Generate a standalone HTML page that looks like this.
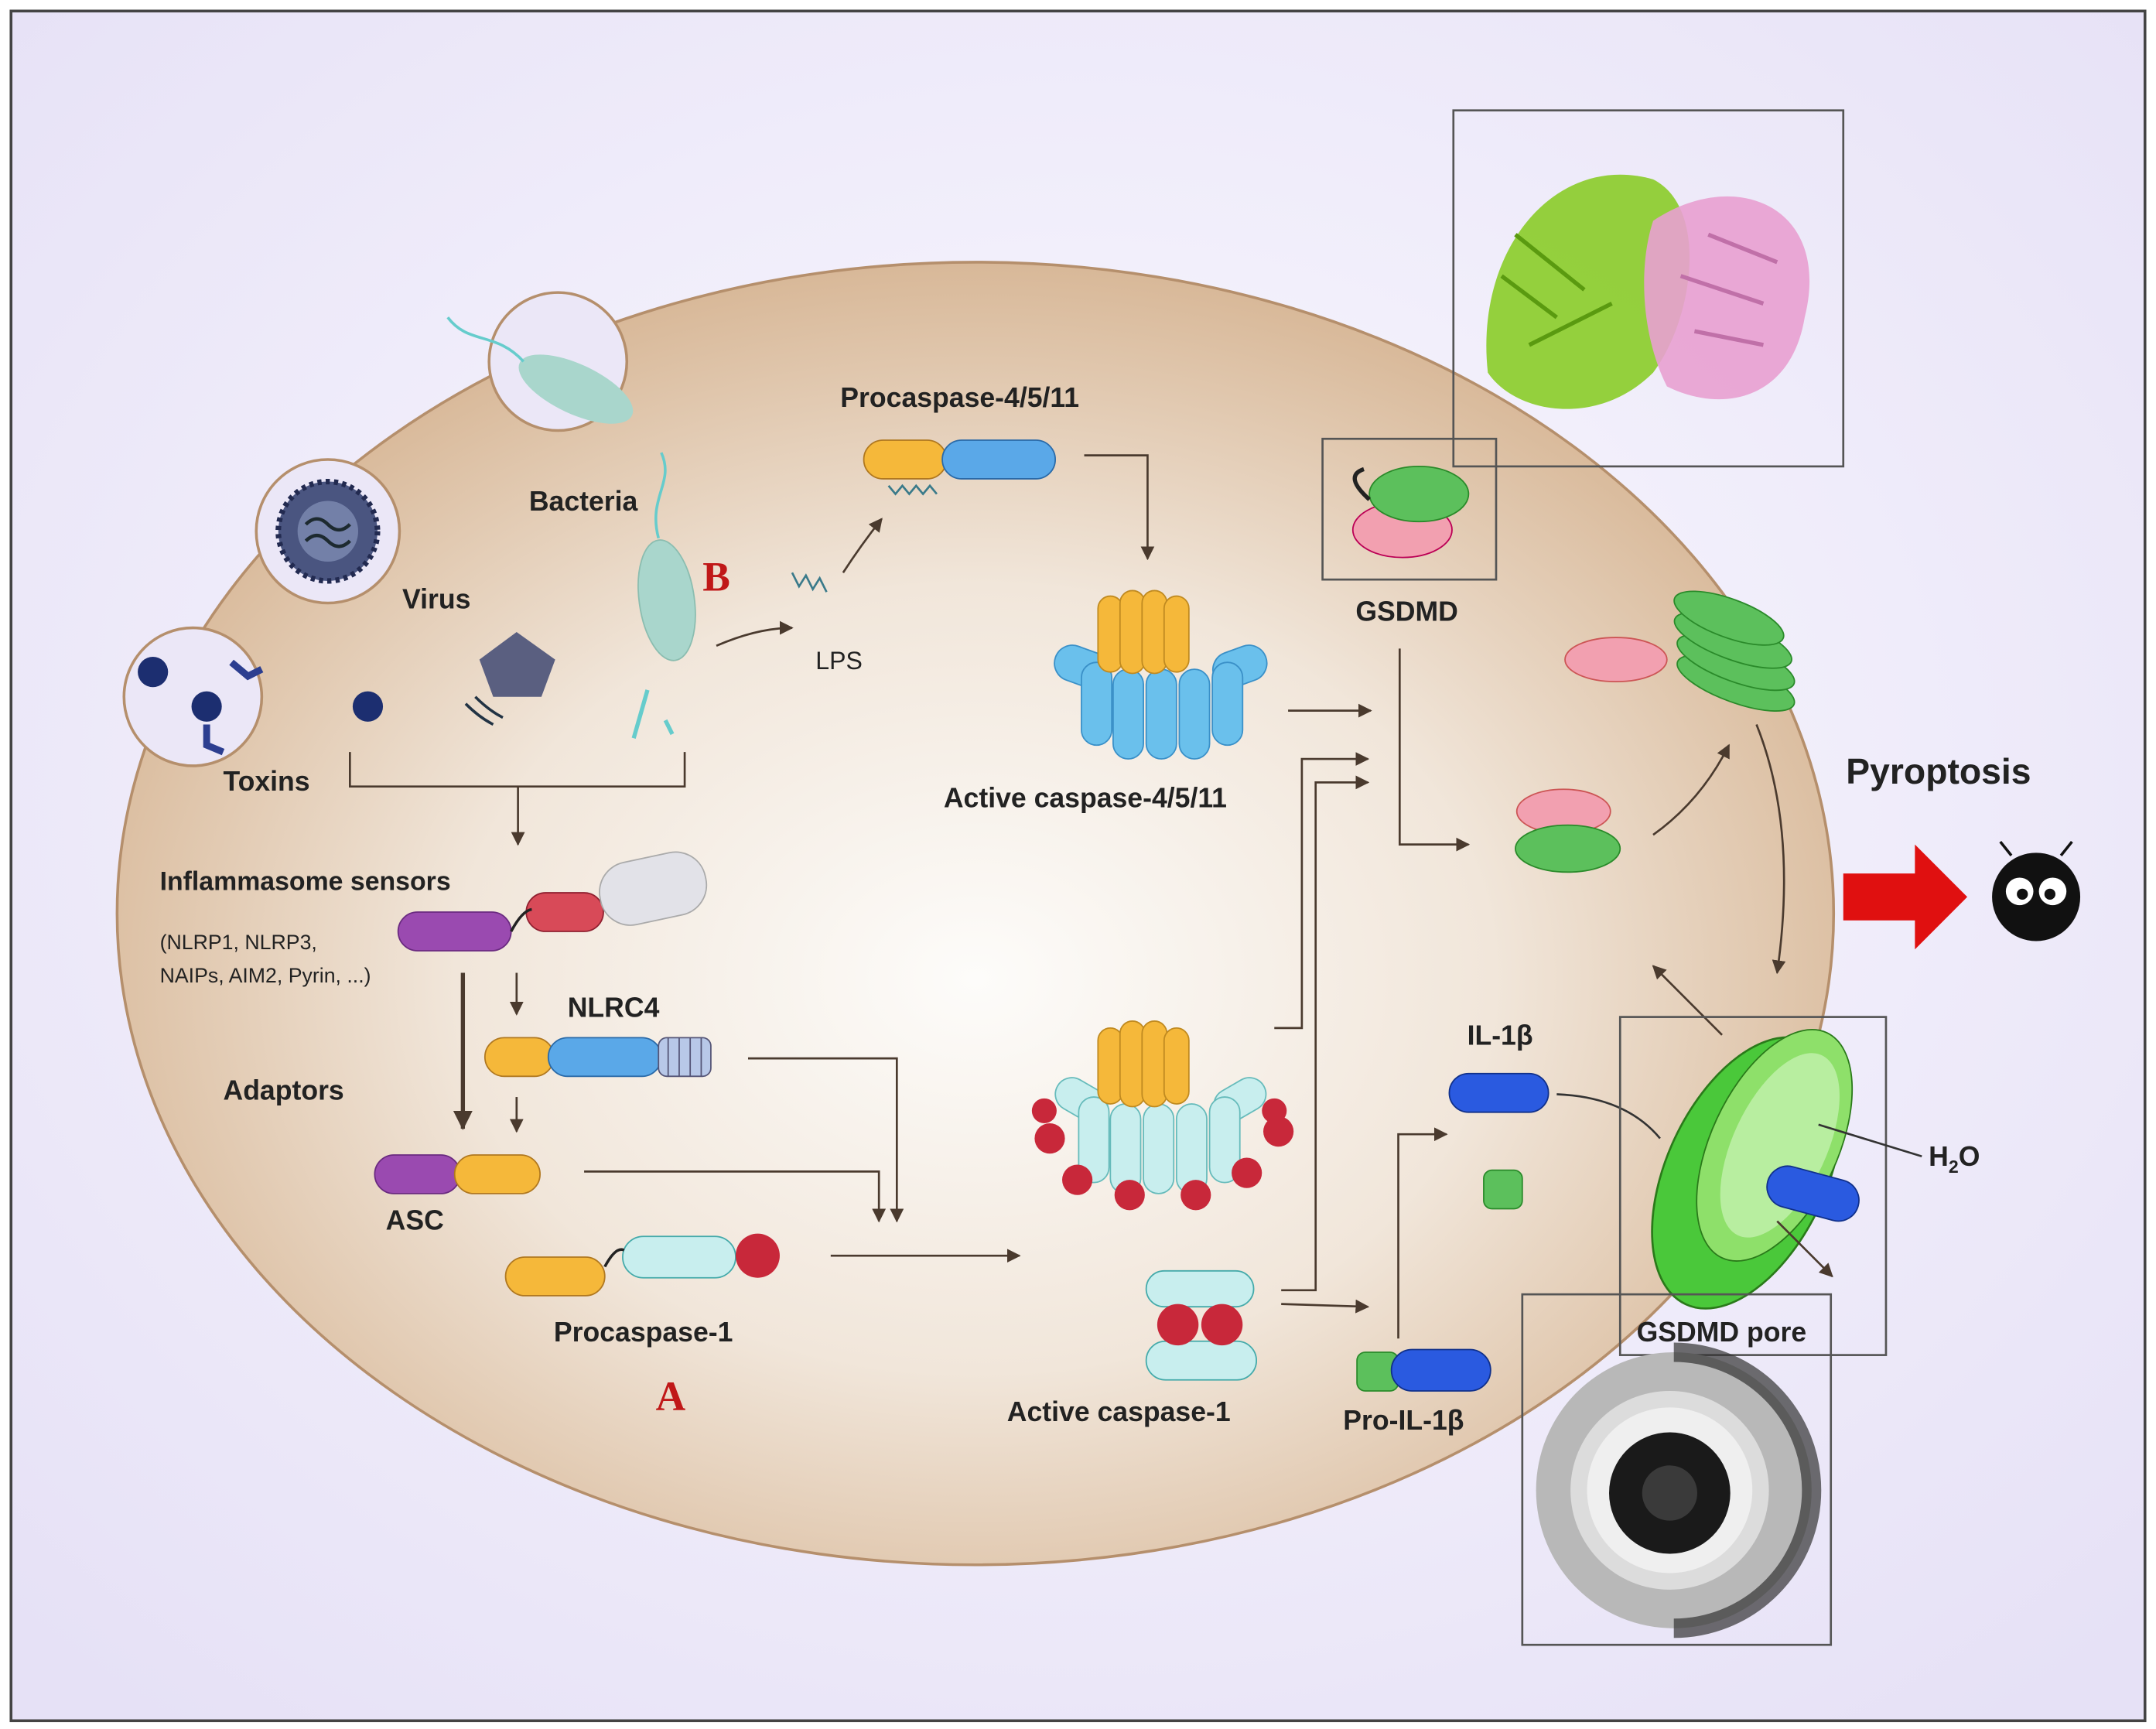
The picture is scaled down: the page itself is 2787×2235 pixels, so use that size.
<!DOCTYPE html>
<html><head><meta charset="utf-8"><style>
html,body{margin:0;padding:0;background:#fff}
svg{display:block}
text{font-family:"Liberation Sans","DejaVu Sans",sans-serif;font-weight:bold;fill:#222}
</style></head><body>
<svg width="2787" height="2235" viewBox="0 0 1565 1253" preserveAspectRatio="none" xmlns="http://www.w3.org/2000/svg">
<defs>
<radialGradient id="bg" cx="0.5" cy="0.45" r="0.7"><stop offset="0" stop-color="#fbfaff"/><stop offset="1" stop-color="#e6e1f6"/></radialGradient>
<radialGradient id="cell" cx="0.5" cy="0.55" r="0.55"><stop offset="0" stop-color="#fdfcfa"/><stop offset="0.55" stop-color="#f1e6da"/><stop offset="1" stop-color="#d8b898"/></radialGradient>
<marker id="ar" markerUnits="userSpaceOnUse" markerWidth="10" markerHeight="10" refX="9" refY="5" orient="auto"><path d="M0,0 L10,5 L0,10 z" fill="#4a3a2e"/></marker>
<marker id="ar2" markerUnits="userSpaceOnUse" markerWidth="14" markerHeight="14" refX="13" refY="7" orient="auto"><path d="M0,0 L14,7 L0,14 z" fill="#4a3a2e"/></marker>
</defs>
<rect x="0" y="0" width="1565" height="1253" fill="#fff"/>
<rect x="8" y="8" width="1549" height="1239" fill="url(#bg)" stroke="#444" stroke-width="2"/>
<ellipse cx="708" cy="662" rx="623" ry="472" fill="url(#cell)" stroke="#b58f6c" stroke-width="2"/>
<circle cx="405" cy="262" r="50" fill="#ebe7f7" stroke="#b58f6c" stroke-width="2"/>
<circle cx="238" cy="385" r="52" fill="#ebe7f7" stroke="#b58f6c" stroke-width="2"/>
<circle cx="140" cy="505" r="50" fill="#ebe7f7" stroke="#b58f6c" stroke-width="2"/>
<ellipse cx="418" cy="282" rx="45" ry="18" transform="rotate(25 418 282)" fill="#a9d6cc"/>
<path d="M380,262 C360,240 340,250 325,230" stroke="#6cc" stroke-width="2" fill="none"/>
<circle cx="238" cy="385" r="36" fill="#4a5580" stroke="#222a50" stroke-width="4" stroke-dasharray="3 3"/>
<circle cx="238" cy="385" r="22" fill="#7380a8"/>
<path d="M222,380 q8,-8 16,0 t16,0 M222,392 q8,-8 16,0 t16,0" stroke="#1d2a30" stroke-width="2.5" fill="none"/>
<circle cx="111" cy="487" r="11" fill="#1c2e70"/>
<circle cx="150" cy="512" r="11" fill="#1c2e70"/>
<path d="M168,480 l12,10 l10,-5 M150,525 l0,15 l12,5" stroke="#2c3e90" stroke-width="5" fill="none"/>
<circle cx="267" cy="512" r="11" fill="#1c2e70"/>
<polygon points="375,458 403,478 393,505 358,505 348,478" fill="#5a5f80"/>
<path d="M338,510 q10,10 20,15 M345,505 q10,10 20,15" stroke="#234" stroke-width="2" fill="none"/>
<ellipse cx="484" cy="435" rx="20" ry="44" transform="rotate(-8 484 435)" fill="#a9d6cc" stroke="#8bbdb0"/>
<path d="M478,390 C470,360 490,350 480,328" stroke="#6cc" stroke-width="2" fill="none"/>
<path d="M470,500 l-10,35 M483,522 l5,10" stroke="#6cc" stroke-width="3"/>
<text x="384" y="370" font-size="20">Bacteria</text>
<text x="292" y="441" font-size="20">Virus</text>
<text x="162" y="573" font-size="20">Toxins</text>
<text x="510" y="428" font-size="30" style="fill:#c01818;font-family:'Liberation Serif',serif">B</text>
<text x="476" y="1022" font-size="30" style="fill:#c01818;font-family:'Liberation Serif',serif">A</text>
<path d="M254,545 L254,570 L497,570 L497,545 M376,570 L376,612" stroke="#4a3a2e" stroke-width="1.5" fill="none" marker-end="url(#ar)"/>
<path d="M520,468 Q550,455 575,455" stroke="#4a3a2e" stroke-width="1.5" fill="none" marker-end="url(#ar)"/>
<path d="M575,415 l5,10 l5,-8 l5,10 l5,-8 l5,10" stroke="#3a7a8a" stroke-width="1.5" fill="none"/>
<text x="592" y="485" font-size="18" style="font-weight:normal">LPS</text>
<path d="M612,415 Q625,395 640,376" stroke="#4a3a2e" stroke-width="1.5" fill="none" marker-end="url(#ar)"/>
<text x="610" y="295" font-size="20">Procaspase-4/5/11</text>
<rect x="627" y="319" width="60" height="28" rx="14" fill="#f5b83a" stroke="#b07820"/>
<rect x="684" y="319" width="82" height="28" rx="14" fill="#5aa8e8" stroke="#2a6aa8"/>
<path d="M645,352 l5,6 l5,-6 l5,6 l5,-6 l5,6 l5,-6 l5,6" stroke="#3a7a8a" stroke-width="1.5" fill="none"/>
<path d="M787,330 L833,330 L833,405" stroke="#4a3a2e" stroke-width="1.5" fill="none" marker-end="url(#ar)"/>
<g fill="#6ac0ec" stroke="#3a90c8">
<rect x="765" y="470" width="40" height="26" rx="13" transform="rotate(20 785 483)"/>
<rect x="880" y="470" width="40" height="26" rx="13" transform="rotate(-20 900 483)"/>
<rect x="785" y="480" width="22" height="60" rx="11"/>
<rect x="808" y="485" width="22" height="65" rx="11"/>
<rect x="832" y="485" width="22" height="65" rx="11"/>
<rect x="856" y="485" width="22" height="65" rx="11"/>
<rect x="880" y="480" width="22" height="60" rx="11"/>
</g>
<g fill="#f5b83a" stroke="#c08a20">
<rect x="797" y="432" width="18" height="55" rx="9"/><rect x="813" y="428" width="18" height="60" rx="9"/><rect x="829" y="428" width="18" height="60" rx="9"/><rect x="845" y="432" width="18" height="55" rx="9"/>
</g>
<text x="685" y="585" font-size="20">Active caspase-4/5/11</text>
<path d="M935,515 L995,515" stroke="#4a3a2e" stroke-width="1.5" marker-end="url(#ar)"/>
<rect x="960" y="318" width="126" height="102" fill="none" stroke="#555" stroke-width="1.5"/>
<ellipse cx="1018" cy="384" rx="36" ry="20" fill="#f2a0b0" stroke="#b05"/>
<ellipse cx="1030" cy="358" rx="36" ry="20" fill="#5cc05c" stroke="#2a8a2a"/>
<path d="M994,362 Q975,345 990,340" stroke="#222" stroke-width="3" fill="none"/>
<text x="984" y="450" font-size="20">GSDMD</text>
<path d="M1016,470 L1016,612 L1066,612" stroke="#4a3a2e" stroke-width="1.5" fill="none" marker-end="url(#ar)"/>
<ellipse cx="1135" cy="588" rx="34" ry="16" fill="#f2a0b0" stroke="#c55"/>
<ellipse cx="1138" cy="615" rx="38" ry="17" fill="#5cc05c" stroke="#2a8a2a"/>
<path d="M1200,605 Q1235,580 1255,540" stroke="#4a3a2e" stroke-width="1.5" fill="none" marker-end="url(#ar)"/>
<ellipse cx="1173" cy="478" rx="37" ry="16" fill="#f2a0b0" stroke="#c55"/>
<g fill="#5cc05c" stroke="#2a8a2a">
<ellipse cx="1260" cy="495" rx="45" ry="14" transform="rotate(20 1260 495)"/>
<ellipse cx="1260" cy="480" rx="45" ry="14" transform="rotate(20 1260 480)"/>
<ellipse cx="1258" cy="464" rx="45" ry="14" transform="rotate(20 1258 464)"/>
<ellipse cx="1255" cy="448" rx="42" ry="14" transform="rotate(20 1255 448)"/>
</g>
<path d="M1275,525 Q1305,600 1290,705" stroke="#4a3a2e" stroke-width="1.5" fill="none" marker-end="url(#ar)"/>
<path d="M1250,750 L1200,700" stroke="#4a3a2e" stroke-width="1.5" fill="none" marker-end="url(#ar)"/>
<rect x="1055" y="80" width="283" height="258" fill="none" stroke="#555" stroke-width="1.5"/>
<path d="M1080,270 C1070,180 1130,110 1200,130 C1240,150 1230,230 1200,270 C1160,310 1100,300 1080,270Z" fill="#8acc28" opacity="0.9"/>
<path d="M1200,160 C1260,120 1330,150 1310,230 C1300,290 1250,300 1210,280 C1190,240 1190,190 1200,160Z" fill="#e8a0d0" opacity="0.9"/>
<g stroke="#5a9a10" stroke-width="3" fill="none"><path d="M1090,200 l40,30 M1100,170 l50,40 M1110,250 l60,-30"/></g>
<g stroke="#c070a8" stroke-width="3" fill="none"><path d="M1220,200 l60,20 M1230,240 l50,10 M1240,170 l50,20"/></g>
<text x="1340" y="568" font-size="26">Pyroptosis</text>
<path d="M1338,633 L1390,633 L1390,612 L1428,650 L1390,688 L1390,667 L1338,667 Z" fill="#e01010"/>
<circle cx="1478" cy="650" r="32" fill="#111"/>
<circle cx="1466" cy="646" r="10" fill="#fff"/><circle cx="1490" cy="646" r="10" fill="#fff"/>
<circle cx="1468" cy="648" r="4" fill="#111"/><circle cx="1488" cy="648" r="4" fill="#111"/>
<path d="M1460,620 l-8,-10 M1496,620 l8,-10" stroke="#111" stroke-width="2"/>
<text x="116" y="645" font-size="19">Inflammasome sensors</text>
<text x="116" y="688" font-size="15" style="font-weight:normal">(NLRP1, NLRP3,</text>
<text x="116" y="712" font-size="15" style="font-weight:normal">NAIPs, AIM2, Pyrin, ...)</text>
<rect x="289" y="661" width="82" height="28" rx="14" fill="#9a4ab0" stroke="#6a2a80"/>
<rect x="382" y="647" width="56" height="28" rx="14" fill="#d84a58" stroke="#902030"/>
<rect x="435" y="621" width="78" height="46" rx="22" transform="rotate(-12 474 644)" fill="#e2e2e8" stroke="#aaa"/>
<path d="M371,675 q8,-15 15,-16" stroke="#222" stroke-width="2" fill="none"/>
<path d="M336,705 L336,818" stroke="#4a3a2e" stroke-width="3" marker-end="url(#ar2)"/>
<path d="M375,705 L375,735" stroke="#4a3a2e" stroke-width="1.5" marker-end="url(#ar)"/>
<path d="M375,795 L375,820" stroke="#4a3a2e" stroke-width="1.5" marker-end="url(#ar)"/>
<text x="412" y="737" font-size="20">NLRC4</text>
<rect x="352" y="752" width="50" height="28" rx="14" fill="#f5b83a" stroke="#b07820"/>
<rect x="398" y="752" width="82" height="28" rx="14" fill="#5aa8e8" stroke="#2a6aa8"/>
<rect x="478" y="752" width="38" height="28" rx="6" fill="#b8c8e8" stroke="#557"/>
<path d="M485,752 v28 M493,752 v28 M501,752 v28 M509,752 v28" stroke="#557"/>
<text x="162" y="797" font-size="20">Adaptors</text>
<path d="M543,767 L651,767 L651,885" stroke="#4a3a2e" stroke-width="1.5" fill="none" marker-end="url(#ar)"/>
<rect x="272" y="837" width="62" height="28" rx="14" fill="#9a4ab0" stroke="#6a2a80"/>
<rect x="330" y="837" width="62" height="28" rx="14" fill="#f5b83a" stroke="#b07820"/>
<text x="280" y="891" font-size="20">ASC</text>
<path d="M424,849 L638,849 L638,885" stroke="#4a3a2e" stroke-width="1.5" fill="none" marker-end="url(#ar)"/>
<rect x="367" y="911" width="72" height="28" rx="14" fill="#f5b83a" stroke="#b07820"/>
<rect x="452" y="896" width="82" height="30" rx="15" fill="#c8eeee" stroke="#4aa"/>
<circle cx="550" cy="910" r="16" fill="#c8283a"/>
<path d="M439,918 q8,-15 14,-12" stroke="#222" stroke-width="2" fill="none"/>
<text x="402" y="972" font-size="20">Procaspase-1</text>
<path d="M603,910 L740,910" stroke="#4a3a2e" stroke-width="1.5" marker-end="url(#ar)"/>
<g fill="#c8eeee" stroke="#6bb">
<rect x="765" y="785" width="40" height="24" rx="12" transform="rotate(30 785 797)"/>
<rect x="880" y="785" width="40" height="24" rx="12" transform="rotate(-30 900 797)"/>
<rect x="783" y="795" width="22" height="62" rx="11"/>
<rect x="806" y="800" width="22" height="65" rx="11"/>
<rect x="830" y="800" width="22" height="65" rx="11"/>
<rect x="854" y="800" width="22" height="65" rx="11"/>
<rect x="878" y="795" width="22" height="62" rx="11"/>
</g>
<g fill="#f5b83a" stroke="#c08a20">
<rect x="797" y="745" width="18" height="55" rx="9"/><rect x="813" y="740" width="18" height="62" rx="9"/><rect x="829" y="740" width="18" height="62" rx="9"/><rect x="845" y="745" width="18" height="55" rx="9"/>
</g>
<g fill="#c8283a"><circle cx="762" cy="825" r="11"/><circle cx="782" cy="855" r="11"/><circle cx="820" cy="866" r="11"/><circle cx="868" cy="866" r="11"/><circle cx="905" cy="850" r="11"/><circle cx="928" cy="820" r="11"/><circle cx="758" cy="805" r="9"/><circle cx="925" cy="805" r="9"/></g>
<path d="M925,745 L945,745 L945,550 L993,550" stroke="#4a3a2e" stroke-width="1.5" fill="none" marker-end="url(#ar)"/>
<rect x="832" y="921" width="78" height="26" rx="13" fill="#c8eeee" stroke="#4aa"/>
<rect x="832" y="972" width="80" height="28" rx="14" fill="#c8eeee" stroke="#4aa"/>
<circle cx="855" cy="960" r="15" fill="#c8283a"/><circle cx="887" cy="960" r="15" fill="#c8283a"/>
<text x="731" y="1030" font-size="20">Active caspase-1</text>
<path d="M930,935 L955,935 L955,567 L993,567" stroke="#4a3a2e" stroke-width="1.5" fill="none" marker-end="url(#ar)"/>
<path d="M930,945 L993,947" stroke="#4a3a2e" stroke-width="1.5" marker-end="url(#ar)"/>
<rect x="985" y="980" width="30" height="28" rx="6" fill="#5cc05c" stroke="#2a8a2a"/>
<rect x="1010" y="978" width="72" height="30" rx="15" fill="#2a5ae0" stroke="#10308a"/>
<text x="975" y="1036" font-size="20">Pro-IL-1β</text>
<path d="M1015,970 L1015,822 L1050,822" stroke="#4a3a2e" stroke-width="1.5" fill="none" marker-end="url(#ar)"/>
<text x="1065" y="757" font-size="20">IL-1β</text>
<rect x="1052" y="778" width="72" height="28" rx="14" fill="#2a5ae0" stroke="#10308a"/>
<rect x="1077" y="848" width="28" height="28" rx="6" fill="#5cc05c" stroke="#2a8a2a"/>
<path d="M1130,793 Q1180,795 1205,825" stroke="#333" stroke-width="1.5" fill="none"/>
<rect x="1176" y="737" width="193" height="245" fill="none" stroke="#555" stroke-width="1.5"/>
<ellipse cx="1268" cy="850" rx="58" ry="105" transform="rotate(25 1268 850)" fill="#4ac83a" stroke="#2a7a1a" stroke-width="1.5"/>
<ellipse cx="1288" cy="830" rx="46" ry="90" transform="rotate(25 1288 830)" fill="#8ee06a" stroke="#2a7a1a"/>
<ellipse cx="1292" cy="830" rx="34" ry="72" transform="rotate(25 1292 830)" fill="#b8eea0"/>
<rect x="1282" y="850" width="68" height="30" rx="15" transform="rotate(15 1316 865)" fill="#2a5ae0" stroke="#10308a"/>
<path d="M1320,815 L1395,838" stroke="#333" stroke-width="1.5"/>
<text x="1400" y="845" font-size="20">H<tspan font-size="13" dy="5">2</tspan><tspan dy="-5">O</tspan></text>
<path d="M1290,885 L1330,925" stroke="#4a3a2e" stroke-width="1.5" marker-end="url(#ar)"/>
<text x="1188" y="972" font-size="20">GSDMD pore</text>
<rect x="1105" y="938" width="224" height="254" fill="none" stroke="#555" stroke-width="1.5"/>
<circle cx="1215" cy="1080" r="100" fill="#b8b8b8"/>
<path d="M1215,980 A100,100 0 0 1 1215,1180" fill="none" stroke="#333" stroke-width="14" opacity="0.7"/>
<circle cx="1212" cy="1080" r="72" fill="#dcdcdc"/>
<circle cx="1212" cy="1080" r="60" fill="#efefef"/>
<circle cx="1212" cy="1082" r="44" fill="#1a1a1a"/>
<circle cx="1212" cy="1082" r="20" fill="#3a3a3a"/>
</svg>
</body></html>
